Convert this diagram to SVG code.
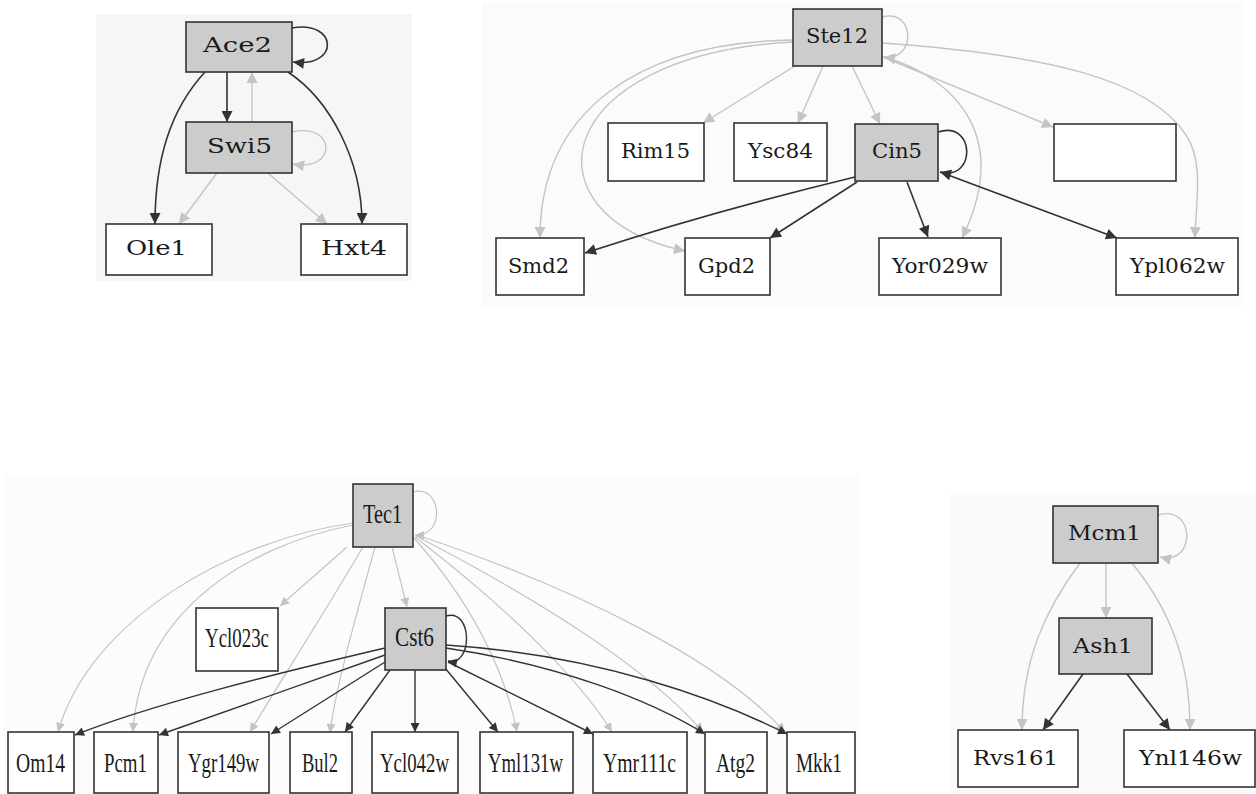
<svg xmlns="http://www.w3.org/2000/svg" width="1256" height="794" viewBox="0 0 1256 794">
<style>
.bg{fill:#ffffff}
.n{fill:#ffffff;stroke:#333333;stroke-width:1.6}
.g{fill:#cccccc;stroke:#333333;stroke-width:1.6}
.t{font-family:"DejaVu Serif","Liberation Serif",serif;font-size:20px;fill:#1a1a1a}
.tt{font-family:"Liberation Serif","DejaVu Serif",serif;font-size:27px;fill:#1a1a1a}
.d{fill:none;stroke:#333333;stroke-width:1.6;marker-end:url(#ad)}
.l{fill:none;stroke:#c4c4c4;stroke-width:1.4;marker-end:url(#al)}
.ds{fill:none;stroke:#333333;stroke-width:1.4;marker-end:url(#ads)}
.ls{fill:none;stroke:#c4c4c4;stroke-width:1.2;marker-end:url(#als)}
</style>
<defs>
<marker id="ad" viewBox="0 0 10 10" refX="10" refY="5" markerWidth="14" markerHeight="11" markerUnits="userSpaceOnUse" orient="auto"><path d="M0,0 L10,5 L0,10 z" fill="#333333"/></marker>
<marker id="al" viewBox="0 0 10 10" refX="10" refY="5" markerWidth="14" markerHeight="11" markerUnits="userSpaceOnUse" orient="auto"><path d="M0,0 L10,5 L0,10 z" fill="#c4c4c4"/></marker>
<marker id="ads" viewBox="0 0 10 10" refX="10" refY="5" markerWidth="11" markerHeight="9" markerUnits="userSpaceOnUse" orient="auto"><path d="M0,0 L10,5 L0,10 z" fill="#333333"/></marker>
<marker id="als" viewBox="0 0 10 10" refX="10" refY="5" markerWidth="11" markerHeight="9" markerUnits="userSpaceOnUse" orient="auto"><path d="M0,0 L10,5 L0,10 z" fill="#c4c4c4"/></marker>
</defs>
<rect class="bg" x="0" y="0" width="1256" height="794"/>
<rect x="96" y="14" width="316" height="267" fill="#f6f6f6"/>
<rect x="482" y="2" width="762" height="304" fill="#fbfbfb"/>
<rect x="3" y="475" width="857" height="319" fill="#fcfcfc"/>
<rect x="950" y="495" width="306" height="299" fill="#fafafa"/>

<g id="connectors">
<!-- Ace2 cluster -->
<path class="d" d="M292,28 C338,20 340,68 293,62"/>
<path class="d" d="M227,72 L227,122"/>
<path class="d" d="M205,72 C170,110 155,160 155,224"/>
<path class="d" d="M288,72 C330,100 362,160 362,224"/>
<path class="l" d="M252,122 L252,72"/>
<path class="l" d="M217,173 L179,224"/>
<path class="l" d="M268,173 L327,224"/>
<path class="l" d="M292,132 C336,122 338,172 293,164"/>
<!-- Ste12 cluster -->
<path class="l" d="M882,17 C916,8 916,62 884,57"/>
<path class="l" d="M795,66 L703,123"/>
<path class="l" d="M823,66 L798,123"/>
<path class="l" d="M852,66 L880,124"/>
<path class="l" d="M793,40 C640,42 540,110 540,238"/>
<path class="l" d="M793,42 C550,55 520,215 685,251"/>
<path class="l" d="M883,57 L1053,127"/>
<path class="l" d="M883,43 C1050,55 1150,80 1186,135 C1204,162 1196,200 1195,238"/>
<path class="l" d="M885,57 C960,80 1010,140 962,238"/>
<path class="d" d="M938,132 C976,120 976,182 940,172"/>
<path class="d" d="M855,177 C760,200 680,222 585,253"/>
<path class="d" d="M857,182 L770,238"/>
<path class="d" d="M907,182 L928,237"/>
<path class="d" d="M940,172 L1117,238"/>
<!-- Tec1 cluster -->
<path class="ls" d="M413,492 C442,484 446,537 415,535"/>
<path class="ls" d="M353,523 C230,540 90,620 58,732"/>
<path class="ls" d="M353,525 C250,545 140,610 133,732"/>
<path class="ls" d="M347,547 L280,606"/>
<path class="ls" d="M363,547 C320,620 275,690 250,732"/>
<path class="ls" d="M375,547 C355,620 335,690 330,733"/>
<path class="ls" d="M392,547 L407,607"/>
<path class="ls" d="M413,537 C470,600 505,670 517,732"/>
<path class="ls" d="M415,537 C510,610 580,680 612,732"/>
<path class="ls" d="M416,536 C540,600 650,670 703,732"/>
<path class="ls" d="M417,535 C580,590 720,660 785,732"/>
<path class="ds" d="M446,616 C473,608 473,667 448,661"/>
<path class="ds" d="M385,648 C270,675 150,705 75,735"/>
<path class="ds" d="M385,655 L159,735"/>
<path class="ds" d="M385,662 L271,734"/>
<path class="ds" d="M390,670 L345,732"/>
<path class="ds" d="M415,670 L415,732"/>
<path class="ds" d="M445,668 L498,732"/>
<path class="ds" d="M448,662 L593,734"/>
<path class="ds" d="M446,648 C560,665 650,700 705,734"/>
<path class="ds" d="M446,645 C600,655 720,700 787,734"/>
<!-- Mcm1 cluster -->
<path class="l" d="M1158,515 C1196,504 1196,566 1160,557"/>
<path class="l" d="M1106,563 L1106,618"/>
<path class="l" d="M1080,563 C1045,610 1022,660 1022,730"/>
<path class="l" d="M1132,563 C1170,610 1190,660 1190,730"/>
<path class="d" d="M1083,674 L1043,730"/>
<path class="d" d="M1127,674 L1170,730"/>
</g>

<!-- Ace2 cluster nodes -->
<g id="Ace2"><rect class="g" x="186" y="22" width="106" height="50"/><text class="t" x="203" y="52" textLength="69" lengthAdjust="spacingAndGlyphs">Ace2</text></g>
<g id="Swi5"><rect class="g" x="186" y="122" width="106" height="51"/><text class="t" x="207" y="153" textLength="65" lengthAdjust="spacingAndGlyphs">Swi5</text></g>
<g id="Ole1"><rect class="n" x="106" y="224" width="106" height="51"/><text class="t" x="126" y="255" textLength="61" lengthAdjust="spacingAndGlyphs">Ole1</text></g>
<g id="Hxt4"><rect class="n" x="301" y="224" width="106" height="51"/><text class="t" x="321" y="255" textLength="66" lengthAdjust="spacingAndGlyphs">Hxt4</text></g>

<!-- Ste12 cluster nodes -->
<g id="Ste12"><rect class="g" x="793" y="9" width="89" height="57"/><text class="t" x="806" y="43" textLength="62" lengthAdjust="spacingAndGlyphs">Ste12</text></g>
<g id="Rim15"><rect class="n" x="608" y="123" width="96" height="58"/><text class="t" x="621" y="158" textLength="69" lengthAdjust="spacingAndGlyphs">Rim15</text></g>
<g id="Ysc84"><rect class="n" x="734" y="123" width="93" height="58"/><text class="t" x="748" y="158" textLength="65" lengthAdjust="spacingAndGlyphs">Ysc84</text></g>
<g id="Cin5"><rect class="g" x="855" y="124" width="83" height="57"/><text class="t" x="872" y="158" textLength="50" lengthAdjust="spacingAndGlyphs">Cin5</text></g>
<g id="blank"><rect class="n" x="1054" y="124" width="122" height="57"/></g>
<g id="Smd2"><rect class="n" x="496" y="238" width="88" height="57"/><text class="t" x="508" y="273" textLength="61" lengthAdjust="spacingAndGlyphs">Smd2</text></g>
<g id="Gpd2"><rect class="n" x="685" y="238" width="85" height="57"/><text class="t" x="698" y="273" textLength="57" lengthAdjust="spacingAndGlyphs">Gpd2</text></g>
<g id="Yor029w"><rect class="n" x="879" y="238" width="122" height="57"/><text class="t" x="892" y="273" textLength="96" lengthAdjust="spacingAndGlyphs">Yor029w</text></g>
<g id="Ypl062w"><rect class="n" x="1116" y="238" width="122" height="57"/><text class="t" x="1130" y="273" textLength="95" lengthAdjust="spacingAndGlyphs">Ypl062w</text></g>

<!-- Tec1 cluster nodes -->
<g id="Tec1"><rect class="g" x="353" y="484" width="60" height="63"/><text class="tt" x="363" y="523" textLength="39" lengthAdjust="spacingAndGlyphs">Tec1</text></g>
<g id="Ycl023c"><rect class="n" x="196" y="608" width="82" height="63"/><text class="tt" x="205" y="647" textLength="64" lengthAdjust="spacingAndGlyphs">Ycl023c</text></g>
<g id="Cst6"><rect class="g" x="385" y="608" width="61" height="62"/><text class="tt" x="395" y="646" textLength="39" lengthAdjust="spacingAndGlyphs">Cst6</text></g>
<g id="Om14"><rect class="n" x="8" y="732" width="66" height="61"/><text class="tt" x="16" y="772" textLength="49" lengthAdjust="spacingAndGlyphs">Om14</text></g>
<g id="Pcm1"><rect class="n" x="94" y="732" width="64" height="61"/><text class="tt" x="104" y="772" textLength="43" lengthAdjust="spacingAndGlyphs">Pcm1</text></g>
<g id="Ygr149w"><rect class="n" x="178" y="732" width="91" height="61"/><text class="tt" x="188" y="772" textLength="71" lengthAdjust="spacingAndGlyphs">Ygr149w</text></g>
<g id="Bul2"><rect class="n" x="290" y="732" width="62" height="61"/><text class="tt" x="302" y="772" textLength="36" lengthAdjust="spacingAndGlyphs">Bul2</text></g>
<g id="Ycl042w"><rect class="n" x="372" y="732" width="86" height="61"/><text class="tt" x="380" y="772" textLength="69" lengthAdjust="spacingAndGlyphs">Ycl042w</text></g>
<g id="Yml131w"><rect class="n" x="480" y="732" width="93" height="61"/><text class="tt" x="488" y="772" textLength="75" lengthAdjust="spacingAndGlyphs">Yml131w</text></g>
<g id="Ymr111c"><rect class="n" x="593" y="732" width="94" height="61"/><text class="tt" x="603" y="772" textLength="73" lengthAdjust="spacingAndGlyphs">Ymr111c</text></g>
<g id="Atg2"><rect class="n" x="705" y="732" width="62" height="61"/><text class="tt" x="716" y="772" textLength="39" lengthAdjust="spacingAndGlyphs">Atg2</text></g>
<g id="Mkk1"><rect class="n" x="787" y="732" width="68" height="61"/><text class="tt" x="796" y="772" textLength="46" lengthAdjust="spacingAndGlyphs">Mkk1</text></g>

<!-- Mcm1 cluster nodes -->
<g id="Mcm1"><rect class="g" x="1053" y="506" width="105" height="57"/><text class="t" x="1068" y="540" textLength="73" lengthAdjust="spacingAndGlyphs">Mcm1</text></g>
<g id="Ash1"><rect class="g" x="1059" y="618" width="93" height="56"/><text class="t" x="1073" y="653" textLength="60" lengthAdjust="spacingAndGlyphs">Ash1</text></g>
<g id="Rvs161"><rect class="n" x="958" y="730" width="120" height="57"/><text class="t" x="973" y="765" textLength="85" lengthAdjust="spacingAndGlyphs">Rvs161</text></g>
<g id="Ynl146w"><rect class="n" x="1124" y="730" width="131" height="57"/><text class="t" x="1139" y="765" textLength="103" lengthAdjust="spacingAndGlyphs">Ynl146w</text></g>
</svg>
